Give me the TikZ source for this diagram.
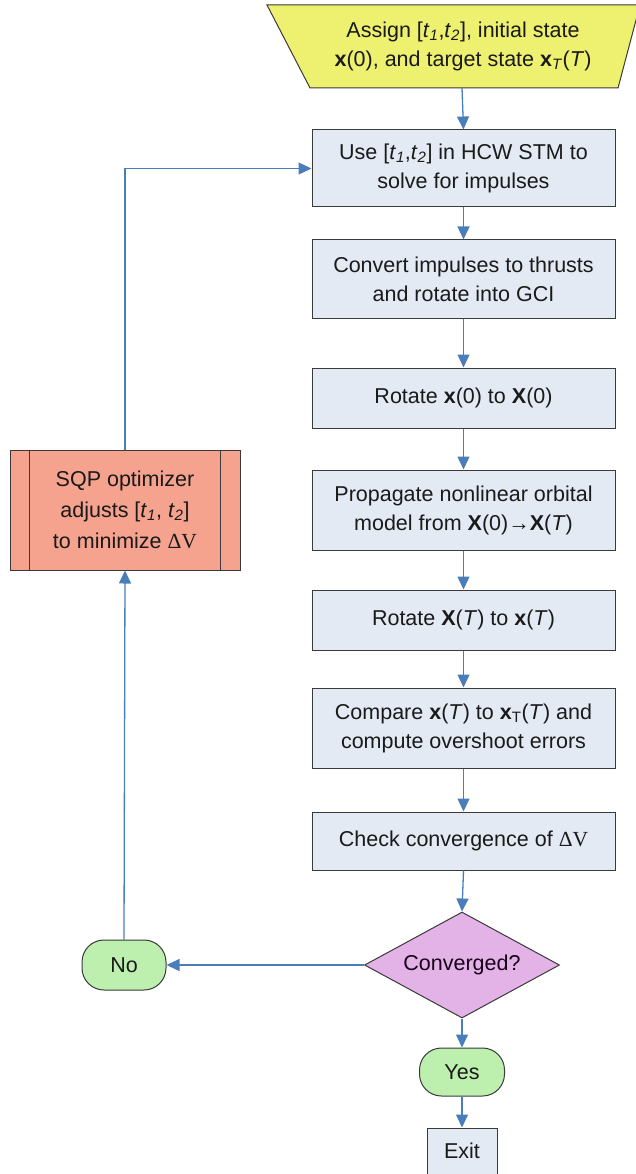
\documentclass[tikz,border=0pt]{standalone}
\usepackage{fontspec}
\setmainfont{Liberation Sans}
\newfontfamily\dvfont{DejaVu Sans}
\newfontfamily\serfont{Liberation Serif}
\usetikzlibrary{arrows.meta,shapes.geometric}
\definecolor{boxfill}{HTML}{E3EAF4}
\definecolor{edgegray}{HTML}{3A3A3A}
\definecolor{arrowblue}{HTML}{4A7EBB}
\definecolor{trapfill}{HTML}{EEF070}
\definecolor{sqpfill}{HTML}{F5A28E}
\definecolor{termfill}{HTML}{BDF0AE}
\definecolor{diamfill}{HTML}{E3B3E8}
\definecolor{txtdark}{HTML}{1A1A1A}
\newcommand{\tsub}[1]{\textit{t}\textsubscript{\textit{#1}}}
\newcommand{\dV}{{\serfont ΔV}}
\newcommand{\rarr}{{\serfont →}}
\tikzset{
  lbl/.style={font=\fontsize{21.5}{29}\selectfont, text=txtdark, align=center},
  proc/.style={lbl, draw=edgegray, fill=boxfill, line width=1pt, minimum width=303pt, inner sep=0pt},
  term/.style={lbl, draw=edgegray, fill=termfill, line width=1pt, rounded corners=22pt, inner sep=0pt},
  conn/.style={draw=arrowblue, line width=1.3pt, -{Triangle[length=13pt,width=12pt]}}
}
\begin{document}
\begin{tikzpicture}[x=1pt,y=-1pt]
\useasboundingbox (0,0) rectangle (636,1174);
% trapezoid input
\draw[edgegray, fill=trapfill, line width=1pt] (267,5) -- (640,5) -- (618,88) -- (310,88) -- cycle;
\node[lbl] (assign) at (463,46)
  {Assign [\tsub{1},\tsub{2}], initial state\\\textbf{x}(0), and target state \textbf{x}\textsubscript{\textit{T}}(\textit{T})};
\coordinate (asgnb) at (462,88);
% process boxes
\node[proc, minimum height=77pt] (b1) at (463.5,168.5) {Use [\tsub{1},\tsub{2}] in HCW STM to\\solve for impulses};
\node[proc, minimum height=78pt] (b2) at (463.5,279) {Convert impulses to thrusts\\and rotate into GCI};
\node[proc, minimum height=60pt] (b3) at (463.5,398) {Rotate \textbf{x}(0) to \textbf{X}(0)};
\node[proc, minimum height=80pt] (b4) at (463.5,510) {Propagate nonlinear orbital\\model from \textbf{X}(0)\rarr\textbf{X}(\textit{T})};
\node[proc, minimum height=60pt] (b5) at (463.5,620) {Rotate \textbf{X}(\textit{T}) to \textbf{x}(\textit{T})};
\node[proc, minimum height=80pt] (b6) at (463.5,728) {Compare \textbf{x}(\textit{T}) to \textbf{x}\textsubscript{T}(\textit{T}) and\\compute overshoot errors};
\node[proc, minimum height=58pt] (b7) at (463.5,841) {Check convergence of \dV};
% decision
\node[lbl, diamond, aspect=1.84, draw=edgegray, fill=diamfill, line width=1pt, minimum width=195pt, minimum height=106pt,
  inner sep=0pt, text=black!80!violet] (dec) at (462,965) {Converged?};
\node[term, minimum width=85pt, minimum height=48pt] (yes) at (462,1072) {Yes};
\node[proc, minimum width=70pt, minimum height=46pt] (exit) at (462,1151) {Exit};
\node[term, minimum width=84pt, minimum height=50pt] (no) at (124,965) {No};
% optimizer box
\node[lbl, draw=edgegray, fill=sqpfill, line width=1pt, minimum width=230pt, minimum height=120pt,
  inner sep=0pt, font=\fontsize{21.5}{31}\selectfont] (sqp) at (125,510)
  {SQP optimizer\\adjusts [\tsub{1}, \tsub{2}]\\to minimize \dV};
\draw[edgegray, line width=1pt] ([xshift=20pt]sqp.north west) -- ([xshift=20pt]sqp.south west);
\draw[edgegray, line width=1pt] ([xshift=-20pt]sqp.north east) -- ([xshift=-20pt]sqp.south east);
% connectors
\draw[conn] (asgnb) -- (b1.north);
\draw[conn] (b1) -- (b2);
\draw[conn] (b2) -- (b3);
\draw[conn] (b3) -- (b4);
\draw[conn] (b4) -- (b5);
\draw[conn] (b5) -- (b6);
\draw[conn] (b6) -- (b7);
\draw[conn] (b7.south) -- (dec.north);
\draw[conn] (dec.south) -- (yes.north);
\draw[conn] (yes.south) -- (exit.north);
\draw[conn] (dec.west) -- (no.east);
\draw[conn] (no.north) -- (sqp.south);
\draw[conn] (sqp.north) |- (b1.west);
\end{tikzpicture}
\end{document}
